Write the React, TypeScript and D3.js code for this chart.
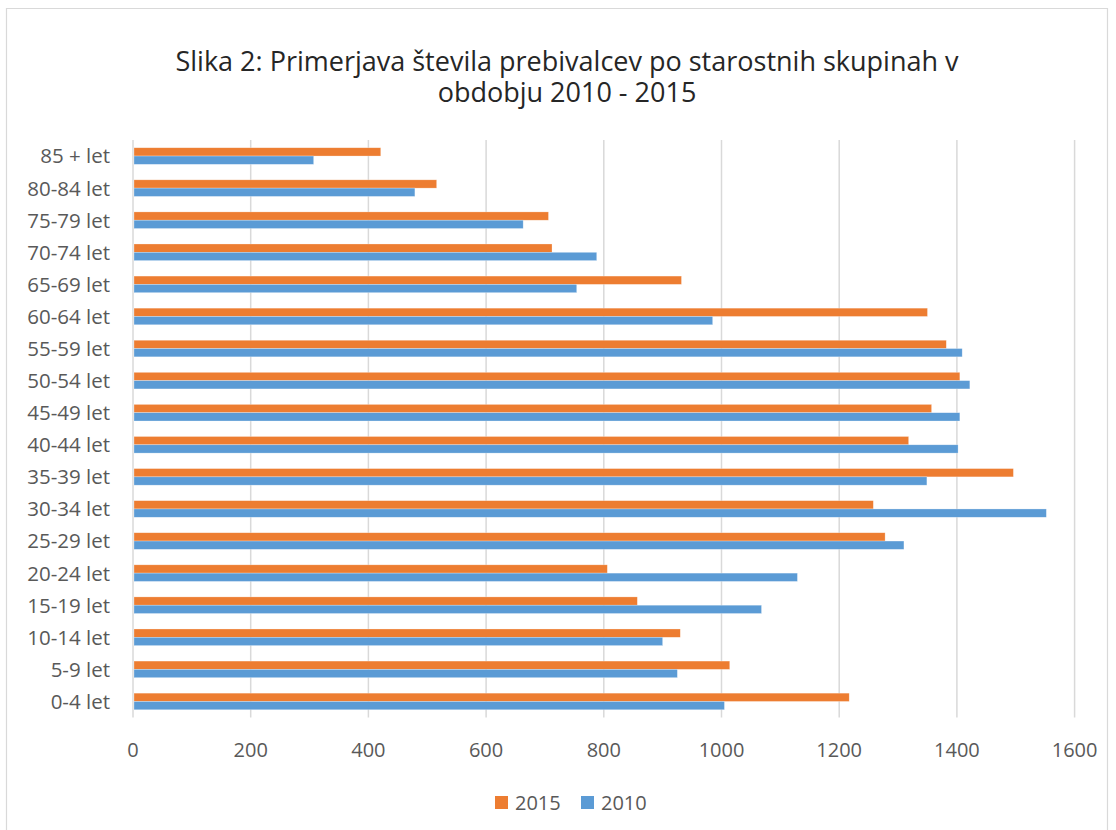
import React from "react";
import * as d3 from "d3";

const categories = ["0-4 let", "5-9 let", "10-14 let", "15-19 let", "20-24 let", "25-29 let", "30-34 let", "35-39 let", "40-44 let", "45-49 let", "50-54 let", "55-59 let", "60-64 let", "65-69 let", "70-74 let", "75-79 let", "80-84 let", "85 + let"];
const values2015 = [1217, 1014, 930, 857, 806, 1278, 1258, 1496, 1318, 1357, 1405, 1382, 1350, 932, 712, 706, 516, 421];
const values2010 = [1005, 925, 900, 1068, 1129, 1310, 1552, 1349, 1402, 1405, 1422, 1409, 985, 754, 788, 663, 479, 307];
const seriesNames = ["2015", "2010"];
const seriesColors = ["#ED7D31", "#5B9BD5"];
const xTicks = [0, 200, 400, 600, 800, 1000, 1200, 1400, 1600];
const titleLines = ["Slika 2: Primerjava števila prebivalcev po starostnih skupinah v", "obdobju 2010 - 2015"];

const W = 1116;
const H = 830;
const FONT = "'Open Sans', 'Noto Sans', sans-serif";

export default function App() {
  const x = d3.scaleLinear().domain([0, 1600]).range([133, 1074.6]);
  const y = d3
    .scaleBand<string>()
    .domain([...categories].reverse())
    .range([140, 717.5])
    .paddingInner(0.4825)
    .paddingOuter(0.4825 / 2);
  const inner = d3.scaleBand<string>().domain(seriesNames).range([0, y.bandwidth()]);
  const seriesValues = [values2015, values2010];

  return (
    <svg width={W} height={H} style={{ position: "absolute", left: 0, top: 0, background: "#fff" }} fontFamily={FONT}>
      <rect x={0} y={0} width={W} height={H} fill="#fff" />
      {/* chart border */}
      <path d="M6.5,900 V8.5 H1107.5 V900" fill="none" stroke="#d9d9d9" strokeWidth={1.2} />
      {/* title */}
      {titleLines.map((t, i) => (
        <text key={i} x={567} y={71 + i * 31} textAnchor="middle" fontSize={27} fill="#262626">
          {t}
        </text>
      ))}
      {/* gridlines */}
      {xTicks.map((t) => (
        <line key={t} x1={x(t)} x2={x(t)} y1={140} y2={717.5} stroke="#d9d9d9" strokeWidth={1.5} />
      ))}
      {/* bars */}
      {seriesNames.map((s, si) =>
        categories.map((c, ci) => (
          <rect
            key={s + c}
            x={x(0) + 1}
            y={(y(c) as number) + (inner(s) as number)}
            width={x(seriesValues[si][ci]) - x(0) - 1}
            height={inner.bandwidth()}
            fill={seriesColors[si]}
            stroke="#fff"
            strokeOpacity={0.45}
            strokeWidth={0.6}
          />
        ))
      )}
      {/* category labels */}
      {categories.map((c) => (
        <text key={c} x={110} y={(y(c) as number) + y.bandwidth() / 2} dy="0.36em" textAnchor="end" fontSize={20.5} fill="#595959">
          {c}
        </text>
      ))}
      {/* x tick labels */}
      {xTicks.map((t) => (
        <text key={t} x={x(t)} y={756.5} textAnchor="middle" fontSize={20} fill="#595959">
          {t}
        </text>
      ))}
      {/* legend */}
      {seriesNames.map((s, i) => (
        <g key={s} transform={`translate(${495 + i * 86},0)`}>
          <rect x={0} y={796} width={13} height={13} fill={seriesColors[i]} />
          <text x={20} y={809.5} fontSize={20} fill="#595959">
            {s}
          </text>
        </g>
      ))}
    </svg>
  );
}
